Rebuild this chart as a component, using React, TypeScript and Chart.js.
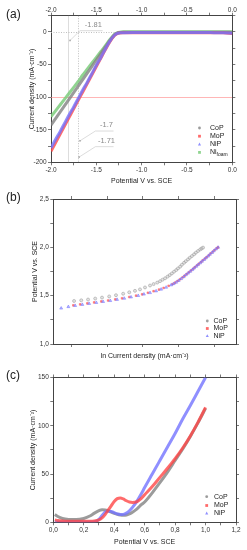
import React, { useEffect, useRef } from 'react';
import { Chart, registerables } from 'chart.js';

Chart.register(...registerables);

const FONT = "'Liberation Sans', Arial, Helvetica, sans-serif";

// ---------------- Panel (a): HER polarisation curves ----------------
const aPotential = [-2.0, -1.95, -1.9, -1.85, -1.8, -1.75, -1.7, -1.65, -1.6, -1.55, -1.5, -1.45, -1.4, -1.35, -1.3, -1.27, -1.24, -1.2, -1.1, -1.0, -0.9, -0.8, -0.7, -0.6, -0.5, -0.4, -0.3, -0.2, -0.1, 0.0];
const aCoP = [-143, -133, -123, -113, -103, -93, -83, -73, -63, -53, -43, -33, -23, -13, -4.5, -1.8, -0.8, -0.4, -0.3, -0.3, -0.3, -0.3, -0.3, -0.3, -0.3, -0.3, -0.3, -0.3, -0.4, -0.6];
const aMoP = [-183, -170, -157, -144, -131, -118, -105, -92, -79, -66, -53, -40, -27, -15, -5.5, -2.5, -1.5, -1.2, -1, -1, -1, -1, -1, -1, -1, -1, -1, -1.1, -1.3, -2.5];
const aNiP = [-178, -165, -153, -140, -127, -115, -102, -89, -77, -64, -51, -39, -26, -14, -5, -2.2, -1.3, -1, -0.9, -0.9, -0.9, -0.9, -0.9, -0.9, -0.9, -0.9, -0.9, -1, -1.1, -1.8];
const aNiFoam = [-130, -121, -112, -103, -94, -85, -76, -66, -57, -48, -39, -30, -21, -11.5, -3.5, -1.2, -0.2, 0.3, 0.5, 0.5, 0.5, 0.5, 0.5, 0.5, 0.5, 0.5, 0.5, 0.5, 0.4, 0.2];
const aXTicks = [-2.0, -1.75, -1.5, -1.25, -1.0, -0.75, -0.5, -0.25, 0.0];
const aXMajor = [-2.0, -1.5, -1.0, -0.5, 0.0];
const aYTicks = [-200, -175, -150, -125, -100, -75, -50, -25, 0, 25];
const aYMajor = [-200, -150, -100, -50, 0];
const aRefV = [-1.81, -1.7];
const aRefHY = [0, -100];
const aRefHEnd = [-1.3, 0.0];
const aAnnLabels = ['-1.81', '-1.7', '-1.71'];
const aAnnAnchorX = [-1.79, -1.68, -1.69];
const aAnnAnchorY = [-13, -167, -192];
const aAnnElbowX = [-1.68, -1.51, -1.51];
const aAnnElbowY = [2, -152, -176];
const aAnnEndX = [-1.43, -1.31, -1.31];

// ---------------- Panel (b): Tafel-type plot ----------------
const bCoPX = [-2.92, -2.72, -2.53, -2.33, -2.14, -1.94, -1.75, -1.55, -1.38, -1.22, -1.08, -0.94, -0.8, -0.7, -0.6, -0.52, -0.45, -0.38, -0.31, -0.25, -0.19, -0.13, -0.07, -0.02, 0.04, 0.09, 0.15, 0.2, 0.26, 0.31, 0.37, 0.43, 0.48, 0.54, 0.6, 0.64, 0.68];
const bCoPY = [1.445, 1.452, 1.46, 1.47, 1.48, 1.492, 1.505, 1.52, 1.535, 1.55, 1.565, 1.585, 1.605, 1.62, 1.635, 1.65, 1.665, 1.68, 1.697, 1.713, 1.73, 1.748, 1.765, 1.782, 1.8, 1.82, 1.84, 1.857, 1.875, 1.892, 1.91, 1.928, 1.945, 1.962, 1.978, 1.988, 1.997];
const bMoPX = [-2.94, -2.75, -2.55, -2.36, -2.16, -1.97, -1.77, -1.58, -1.38, -1.19, -1.02, -0.86, -0.7, -0.55, -0.42, -0.28, -0.17, -0.1, -0.03, 0.04, 0.11, 0.17, 0.23, 0.29, 0.35, 0.41, 0.46, 0.52, 0.57, 0.63, 0.68, 0.74, 0.79, 0.85, 0.9, 0.96, 1.01, 1.07, 1.1];
const bMoPY = [1.4, 1.41, 1.42, 1.43, 1.44, 1.45, 1.461, 1.473, 1.486, 1.5, 1.514, 1.53, 1.546, 1.563, 1.58, 1.602, 1.62, 1.635, 1.652, 1.67, 1.69, 1.708, 1.726, 1.744, 1.762, 1.78, 1.797, 1.815, 1.832, 1.85, 1.867, 1.885, 1.902, 1.92, 1.939, 1.957, 1.975, 1.992, 2.0];
const bNiPX = [-3.28, -3.08, -2.89, -2.69, -2.5, -2.3, -2.11, -1.91, -1.72, -1.52, -1.33, -1.13, -0.97, -0.8, -0.63, -0.49, -0.35, -0.21, -0.14, -0.07, 0.0, 0.07, 0.14, 0.2, 0.26, 0.32, 0.38, 0.43, 0.49, 0.54, 0.6, 0.65, 0.71, 0.76, 0.82, 0.87, 0.93, 0.98, 1.04, 1.1];
const bNiPY = [1.37, 1.385, 1.397, 1.408, 1.418, 1.428, 1.438, 1.448, 1.46, 1.472, 1.485, 1.5, 1.515, 1.53, 1.548, 1.566, 1.586, 1.61, 1.623, 1.638, 1.656, 1.675, 1.695, 1.715, 1.732, 1.75, 1.768, 1.785, 1.803, 1.82, 1.838, 1.855, 1.873, 1.89, 1.908, 1.927, 1.945, 1.963, 1.982, 2.0];
const bXTicks = [-3, -2, -1, 0, 1];
const bYTicks = [1.0, 1.25, 1.5, 1.75, 2.0, 2.25, 2.5];
const bYMajor = [1.0, 1.5, 2.0, 2.5];

// ---------------- Panel (c): OER polarisation curves ----------------
const cPotential = [0.01, 0.03, 0.06, 0.1, 0.15, 0.2, 0.24, 0.27, 0.3, 0.32, 0.34, 0.36, 0.38, 0.4, 0.42, 0.44, 0.46, 0.48, 0.5, 0.52, 0.55, 0.58, 0.6, 0.65, 0.7, 0.75, 0.8, 0.85, 0.9, 0.95, 1.0];
const cCoP = [8, 6, 4, 3, 2.8, 4, 6.5, 9.5, 12, 13, 12.8, 11.8, 10.5, 9.3, 8.3, 7.6, 7.3, 7.6, 8.8, 10.5, 14, 18.5, 21, 30.5, 41, 52, 64, 76, 89, 103, 118];
const cMoP = [2.5, 1.8, 1.3, 1, 1, 1, 1, 1.3, 2.5, 4.5, 8, 12.5, 17, 21.5, 24.5, 25.3, 24.2, 22.3, 21, 20.6, 21.5, 25, 28.5, 37, 46.5, 56, 66, 77, 89.5, 103.5, 119];
const cNiP = [0.5, 0.3, 0.3, 0.3, 0.3, 0.3, 0.3, 0.5, 3, 7, 10.5, 11.8, 11.2, 10, 8.8, 8, 8.2, 9.5, 12, 15.5, 22, 30, 36, 50, 64, 78, 92, 107, 121, 135.5, 150];
const cXTicks = [0, 0.1, 0.2, 0.3, 0.4, 0.5, 0.6, 0.7, 0.8, 0.9, 1.0, 1.1, 1.2];
const cXMajor = [0, 0.2, 0.4, 0.6, 0.8, 1.0, 1.2];
const cYTicks = [0, 25, 50, 75, 100, 125, 150];
const cYMajor = [0, 50, 100, 150];

const SERIES = ['CoP', 'MoP', 'NiP', 'Ni'];

const GRAY = 'rgba(130,130,130,0.8)';
const RED = 'rgba(255,70,70,0.8)';
const BLUE = 'rgba(115,115,255,0.8)';
const GREEN = 'rgba(125,205,125,0.85)';

const W = 247;

type Pos = 'left' | 'right' | 'top' | 'bottom';
type AxisSpec = {
  position: Pos; min: number; max: number; ticks: number[]; majors: number[];
  fmt?: (v: number) => string; size: number; title?: string; titlePad?: number; labelPad?: number;
};

const dot = (v: number) => v.toFixed(1);
const comma = (v: number) => v.toFixed(1).replace('.', ',');
const int = (v: number) => String(Math.round(v));

function buildAxis(s: AxisSpec) {
  const horizontal = s.position === 'top' || s.position === 'bottom';
  const isMajor = (v: number) => s.majors.some((m) => Math.abs(m - v) < 1e-6);
  return {
    type: 'linear',
    position: s.position,
    axis: horizontal ? 'x' : 'y',
    min: s.min,
    max: s.max,
    afterBuildTicks: (sc: any) => { sc.ticks = s.ticks.map((v) => ({ value: v })); },
    afterFit: (sc: any) => { if (horizontal) sc.height = s.size; else sc.width = s.size; },
    ticks: {
      autoSkip: false, maxRotation: 0, minRotation: 0, padding: s.labelPad ?? 1.5,
      font: { family: FONT, size: 6.5 }, color: '#333',
      callback: (v: number) => (s.fmt && isMajor(v) ? s.fmt(v) : ''),
    },
    grid: { display: true, drawOnChartArea: false, drawTicks: true, tickLength: 3, color: '#555', tickColor: '#555', lineWidth: 0.8 },
    border: { display: true, color: '#444', width: 1 },
    title: s.title
      ? { display: true, text: s.title, color: '#222', font: { family: FONT, size: 7 },
          padding: horizontal ? { top: 0, bottom: s.titlePad ?? 0 } : { top: s.titlePad ?? 0, bottom: 0 } }
      : { display: false },
  };
}

function drawMarker(ctx: CanvasRenderingContext2D, style: string, x: number, y: number, r: number, color: string) {
  ctx.save();
  ctx.fillStyle = color;
  ctx.beginPath();
  if (style === 'rect') {
    ctx.rect(x - r, y - r, 2 * r, 2 * r);
  } else if (style === 'triangle') {
    ctx.moveTo(x, y - r * 1.2);
    ctx.lineTo(x + r * 1.1, y + r * 0.8);
    ctx.lineTo(x - r * 1.1, y + r * 0.8);
    ctx.closePath();
  } else {
    ctx.arc(x, y, r, 0, Math.PI * 2);
  }
  ctx.fill();
  ctx.restore();
}

type LegendItem = { label: string; sub?: string; color: string; style: string };

function legendPlugin(items: LegendItem[], markerX: number, textX: number, rows: number[]) {
  return {
    id: 'customLegend',
    afterDraw(chart: any) {
      const ctx: CanvasRenderingContext2D = chart.ctx;
      ctx.save();
      items.forEach((it, i) => {
        drawMarker(ctx, it.style, markerX, rows[i], 1.4, it.color);
        ctx.font = `7px ${FONT}`;
        ctx.fillStyle = '#222';
        ctx.textBaseline = 'middle';
        ctx.textAlign = 'left';
        ctx.fillText(it.label, textX, rows[i]);
        if (it.sub) {
          const w = ctx.measureText(it.label).width;
          ctx.font = `5px ${FONT}`;
          ctx.fillText(it.sub, textX + w, rows[i] + 2);
        }
      });
      ctx.restore();
    },
  };
}

// Reference lines of panel (a), drawn under the data through the chart's scales
const refLinesPlugin = {
  id: 'refLines',
  beforeDatasetsDraw(chart: any) {
    const ctx: CanvasRenderingContext2D = chart.ctx;
    const sx = chart.scales.x;
    const sy = chart.scales.y;
    const area = chart.chartArea;
    const seg = (x1: number, y1: number, x2: number, y2: number, color: string, dash: number[]) => {
      ctx.beginPath();
      ctx.strokeStyle = color;
      ctx.lineWidth = 0.8;
      ctx.setLineDash(dash);
      ctx.moveTo(x1, y1);
      ctx.lineTo(x2, y2);
      ctx.stroke();
    };
    ctx.save();
    ctx.beginPath();
    ctx.rect(area.left, area.top, area.right - area.left, area.bottom - area.top);
    ctx.clip();
    const v0 = Math.round(sx.getPixelForValue(aRefV[0])) + 0.5;
    const v1 = Math.round(sx.getPixelForValue(aRefV[1])) + 0.5;
    seg(v0, area.top, v0, area.bottom, '#d4d4d4', []);
    seg(v1, area.top, v1, area.bottom, '#b0b0b0', [1, 1.5]);
    const h0 = Math.round(sy.getPixelForValue(aRefHY[0])) + 0.5;
    const h1 = Math.round(sy.getPixelForValue(aRefHY[1])) + 0.5;
    seg(area.left, h0, sx.getPixelForValue(aRefHEnd[0]), h0, '#b0b0b0', [1, 1.5]);
    seg(area.left, h1, sx.getPixelForValue(aRefHEnd[1]), h1, 'rgba(255,140,140,0.8)', []);
    ctx.restore();
  },
};

const annotationPlugin = {
  id: 'annotations',
  afterDatasetsDraw(chart: any) {
    const ctx: CanvasRenderingContext2D = chart.ctx;
    const sx = chart.scales.x;
    const sy = chart.scales.y;
    ctx.save();
    aAnnLabels.forEach((label, i) => {
      const ax = sx.getPixelForValue(aAnnAnchorX[i]);
      const ay = sy.getPixelForValue(aAnnAnchorY[i]);
      const ex = sx.getPixelForValue(aAnnElbowX[i]);
      const ey = sy.getPixelForValue(aAnnElbowY[i]);
      const fx = sx.getPixelForValue(aAnnEndX[i]);
      ctx.strokeStyle = 'rgba(190,190,190,0.9)';
      ctx.lineWidth = 0.6;
      ctx.setLineDash([]);
      ctx.beginPath();
      ctx.moveTo(ax, ay);
      ctx.lineTo(ex, ey);
      ctx.lineTo(fx, ey);
      ctx.stroke();
      ctx.fillStyle = '#aaa';
      ctx.fillRect(ax - 0.8, ay - 0.8, 1.6, 1.6);
      ctx.font = `7.5px ${FONT}`;
      ctx.fillStyle = '#8a8a8a';
      ctx.textAlign = 'center';
      ctx.textBaseline = 'middle';
      ctx.fillText(label, (ex + fx) / 2 + 2, ey - 6);
    });
    ctx.restore();
  },
};

const pts = (xs: number[], ys: number[]) => xs.map((x, i) => ({ x, y: ys[i] }));

function lineSet(label: string, xs: number[], ys: number[], color: string, order: number, width = 3) {
  return { label, data: pts(xs, ys), showLine: true, borderColor: color, backgroundColor: color, borderWidth: width, pointRadius: 0, order, cubicInterpolationMode: 'monotone' };
}

function baseOptions(scales: any) {
  return {
    responsive: false,
    maintainAspectRatio: false,
    animation: false,
    devicePixelRatio: 1,
    layout: { padding: 0 },
    plugins: { legend: { display: false }, tooltip: { enabled: false } },
    scales,
  };
}

// Panel geometry
const A = { H: 186, left: 51, right: 232.3, top: 15.7, bottom: 162.3 };
const B = { T: 186, H: 174, left: 53.3, right: 236, top: 13, bottom: 158 };
const C = { T: 360, H: 190, left: 53.3, right: 236, top: 17.5, bottom: 162.3 };

function configA() {
  const xMin = aXTicks[0];
  const xMax = aXTicks[aXTicks.length - 1];
  const yMin = aYTicks[0];
  const yMax = aYTicks[aYTicks.length - 1];
  return {
    type: 'scatter',
    data: {
      datasets: [
        lineSet(SERIES[2], aPotential, aNiP, BLUE, 1),
        lineSet(SERIES[1], aPotential, aMoP, RED, 2),
        lineSet(SERIES[0], aPotential, aCoP, GRAY, 3),
        lineSet(SERIES[3], aPotential, aNiFoam, GREEN, 4),
      ],
    },
    options: baseOptions({
      x: buildAxis({ position: 'bottom', min: xMin, max: xMax, ticks: aXTicks, majors: aXMajor, fmt: dot, size: A.H - A.bottom, title: 'Potential V vs. SCE', titlePad: 1 }),
      x2: buildAxis({ position: 'top', min: xMin, max: xMax, ticks: aXTicks, majors: aXMajor, fmt: dot, size: A.top, labelPad: -1.5 }),
      y: buildAxis({ position: 'left', min: yMin, max: yMax, ticks: aYTicks, majors: aYMajor, fmt: int, size: A.left, title: 'Current density (mA·cm⁻²)', titlePad: 27.5 }),
      y2: buildAxis({ position: 'right', min: yMin, max: yMax, ticks: aYTicks, majors: [], size: W - A.right }),
    }),
    plugins: [
      refLinesPlugin,
      annotationPlugin,
      legendPlugin(
        [
          { label: SERIES[0], color: GRAY, style: 'circle' },
          { label: SERIES[1], color: RED, style: 'rect' },
          { label: SERIES[2], color: BLUE, style: 'triangle' },
          { label: SERIES[3], sub: 'foam', color: GREEN, style: 'rect' },
        ],
        199.5, 210, [128, 136.2, 144.3, 152.4],
      ),
    ],
  };
}

function configB() {
  const xMin = -3.5;
  const xMax = 1.6;
  const yMin = bYTicks[0];
  const yMax = bYTicks[bYTicks.length - 1];
  const pointSet = (label: string, xs: number[], ys: number[], style: string, fill: string, stroke: string, r: number, order: number) => ({
    label, data: pts(xs, ys), showLine: false, pointStyle: style, pointRadius: r, pointBackgroundColor: fill, pointBorderColor: stroke, pointBorderWidth: 0.6, order,
  });
  return {
    type: 'scatter',
    data: {
      datasets: [
        pointSet(SERIES[2], bNiPX, bNiPY, 'triangle', 'rgba(130,130,255,0.55)', 'rgba(110,110,255,0.85)', 1.7, 1),
        pointSet(SERIES[1], bMoPX, bMoPY, 'rect', 'rgba(255,80,80,0.7)', 'rgba(255,90,90,0.85)', 1.2, 2),
        pointSet(SERIES[0], bCoPX, bCoPY, 'circle', 'rgba(200,200,200,0.5)', 'rgba(150,150,150,0.85)', 1.5, 3),
      ],
    },
    options: baseOptions({
      x: buildAxis({ position: 'bottom', min: xMin, max: xMax, ticks: bXTicks, majors: [], size: B.H - B.bottom, title: 'ln Current density (mA·cm⁻²)', titlePad: 0 }),
      x2: buildAxis({ position: 'top', min: xMin, max: xMax, ticks: bXTicks, majors: [], size: B.top }),
      y: buildAxis({ position: 'left', min: yMin, max: yMax, ticks: bYTicks, majors: bYMajor, fmt: comma, size: B.left, title: 'Potential V vs. SCE', titlePad: 30.5 }),
      y2: buildAxis({ position: 'right', min: yMin, max: yMax, ticks: bYTicks, majors: [], size: W - B.right }),
    }),
    plugins: [
      legendPlugin(
        [
          { label: SERIES[0], color: 'rgba(150,150,150,0.9)', style: 'circle' },
          { label: SERIES[1], color: RED, style: 'rect' },
          { label: SERIES[2], color: BLUE, style: 'triangle' },
        ],
        207.3, 213.5, [135, 142.5, 150],
      ),
    ],
  };
}

function configC() {
  const xMin = cXTicks[0];
  const xMax = cXTicks[cXTicks.length - 1];
  const yMin = cYTicks[0];
  const yMax = cYTicks[cYTicks.length - 1];
  return {
    type: 'scatter',
    data: {
      datasets: [
        lineSet(SERIES[1], cPotential, cMoP, RED, 1),
        lineSet(SERIES[2], cPotential, cNiP, BLUE, 2),
        lineSet(SERIES[0], cPotential, cCoP, GRAY, 3),
      ],
    },
    options: baseOptions({
      x: buildAxis({ position: 'bottom', min: xMin, max: xMax, ticks: cXTicks, majors: cXMajor, fmt: comma, size: C.H - C.bottom, title: 'Potential V vs. SCE', titlePad: 3.5 }),
      x2: buildAxis({ position: 'top', min: xMin, max: xMax, ticks: cXTicks, majors: [], size: C.top }),
      y: buildAxis({ position: 'left', min: yMin, max: yMax, ticks: cYTicks, majors: cYMajor, fmt: int, size: C.left, title: 'Current density (mA·cm⁻²)', titlePad: 29 }),
      y2: buildAxis({ position: 'right', min: yMin, max: yMax, ticks: cYTicks, majors: [], size: W - C.right }),
    }),
    plugins: [
      legendPlugin(
        [
          { label: SERIES[0], color: GRAY, style: 'circle' },
          { label: SERIES[1], color: RED, style: 'rect' },
          { label: SERIES[2], color: BLUE, style: 'triangle' },
        ],
        206.7, 214, [136.7, 145.5, 153.3],
      ),
    ],
  };
}

function ChartCanvas({ top, height, make }: { top: number; height: number; make: () => any }) {
  const ref = useRef<HTMLCanvasElement | null>(null);
  useEffect(() => {
    const chart = new Chart(ref.current as HTMLCanvasElement, make());
    return () => chart.destroy();
  }, []);
  return (
    <canvas
      ref={ref}
      width={W}
      height={height}
      style={{ position: 'absolute', left: 0, top, width: W, height, display: 'block' }}
    />
  );
}

const panelLabel: React.CSSProperties = {
  position: 'absolute', left: 6, font: `12px ${FONT}`, lineHeight: '12px', color: '#222',
};

export default function App() {
  return (
    <div style={{ position: 'absolute', left: 0, top: 0, width: W, height: 550, background: '#fff', overflow: 'hidden' }}>
      <ChartCanvas top={0} height={A.H} make={configA} />
      <ChartCanvas top={B.T} height={B.H} make={configB} />
      <ChartCanvas top={C.T} height={C.H} make={configC} />
      <div style={{ ...panelLabel, top: 7.5 }}>(a)</div>
      <div style={{ ...panelLabel, top: 190.5 }}>(b)</div>
      <div style={{ ...panelLabel, top: 369 }}>(c)</div>
    </div>
  );
}
